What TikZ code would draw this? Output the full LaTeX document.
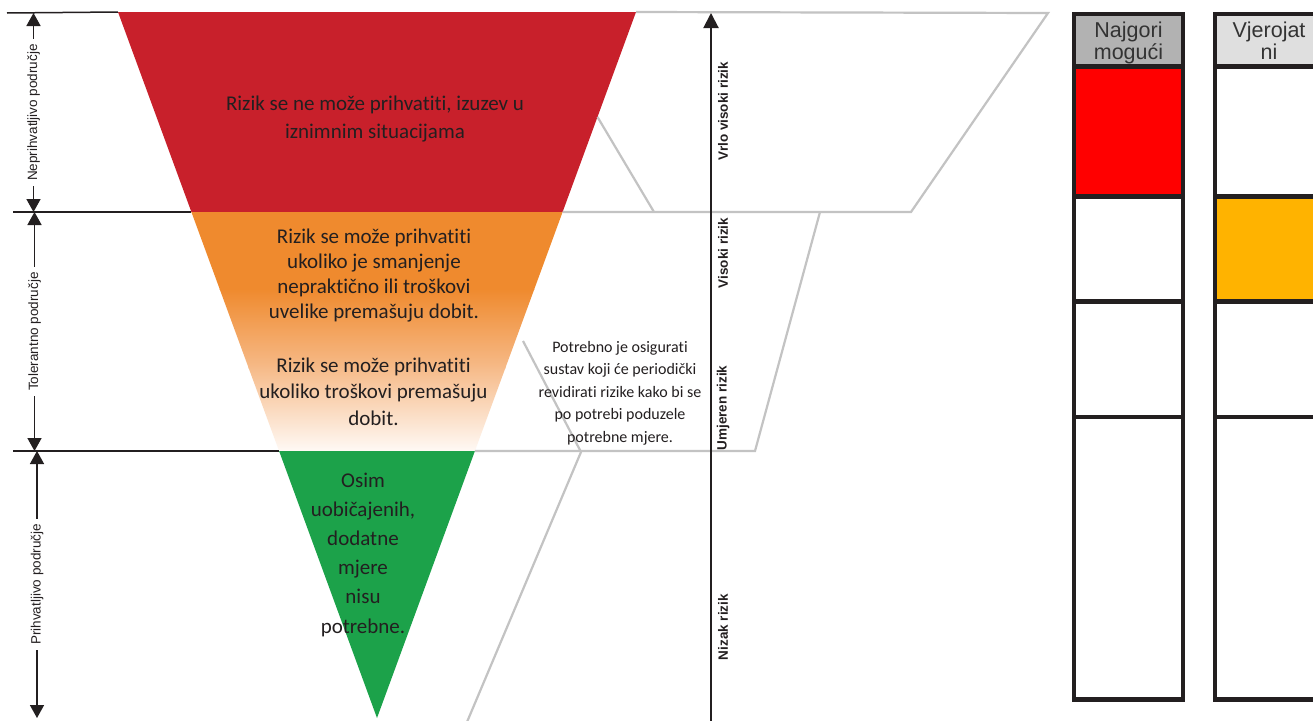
\documentclass[tikz,border=0pt]{standalone}
\usepackage{fontspec}
\setmainfont{Carlito}[Ligatures={NoCommon}]
\newfontfamily\arialf{Liberation Sans}
\usetikzlibrary{arrows.meta}
\definecolor{cRed}{HTML}{C8202B}
\definecolor{cOr}{HTML}{EF8A2E}
\definecolor{cOrB}{HTML}{F6BA88}
\definecolor{cOrC}{HTML}{FFFAF6}
\definecolor{cGreen}{HTML}{1CA24A}
\definecolor{cGray}{HTML}{C3C3C3}
\definecolor{cInk}{HTML}{231F20}
\definecolor{cBoxRed}{HTML}{FF0000}
\definecolor{cBoxOr}{HTML}{FFB300}
\definecolor{cHdrA}{HTML}{B2B2B2}
\definecolor{cHdrB}{HTML}{DFDFDF}
\definecolor{cHdrTxt}{HTML}{333333}
\tikzset{
  ftext/.style={text=cInk, align=center, inner sep=0pt},
  gline/.style={draw=cGray, line width=2.2pt, line join=miter},
  bline/.style={draw=cInk, line width=1.5pt},
  dimline/.style={draw=cInk, line width=1.5pt,
    {Triangle[width=14pt,length=13pt]}-{Triangle[width=14pt,length=13pt]}},
  dimlbl/.style={rotate=90, fill=white, text=cInk, inner sep=5pt,
    font=\arialf\fontsize{13.5}{15}\selectfont},
  axline/.style={draw=cInk, line width=2pt, -{Triangle[width=15pt,length=15pt]}},
  rlbl/.style={rotate=90, text=cInk, inner sep=0pt,
    font=\arialf\bfseries\fontsize{13.5}{15}\selectfont},
  boxline/.style={draw=cInk, line width=4.3pt},
  hdr/.style={text=cHdrTxt, align=center, inner sep=0pt,
    font=\arialf\fontsize{21.5}{22}\selectfont}
}
\begin{document}
\begin{tikzpicture}[x=1pt,y=-1pt]
\clip (0,0) rectangle (1313,720);
\fill[white] (0,0) rectangle (1313,720);

% funnel coordinates
\coordinate (fTL) at (118,12);
\coordinate (fTR) at (636,12);
\coordinate (fA) at (377,718);
\coordinate (fL1) at (191.4,212);
\coordinate (fR1) at (562.6,212);
\coordinate (fL2) at (279.1,451);
\coordinate (fR2) at (474.9,451);

% red part
\fill[cRed] (fTL) -- (fTR) -- (fR1) -- (fL1) -- cycle;
% orange part with fade
\begin{scope}
  \clip (fL1) -- (fR1) -- (fR2) -- (fL2) -- cycle;
  \fill[cOr] (150,211) rectangle (600,290);
  \shade[top color=cOr, bottom color=cOrB] (150,289) rectangle (600,368);
  \shade[top color=cOrB, bottom color=cOrC] (150,367) rectangle (600,452);
\end{scope}
% green part
\fill[cGreen] (fL2) -- (fR2) -- (fA) -- cycle;

% gray callout lines
\coordinate (g1) at (1048,13);
\coordinate (g2) at (911,212);
\coordinate (g3) at (597.5,117);
\coordinate (g4) at (654,212);
\coordinate (g5) at (820,212);
\coordinate (g6) at (755,451);
\coordinate (g7) at (523,341);
\coordinate (g8) at (581,452);
\coordinate (g9) at (467,722);
\draw[gline] (fTR) -- (g1) -- (g2) -- (fR1);
\draw[gline] (g3) -- (g4);
\draw[gline] (g5) -- (g6) -- (fR2);
\draw[gline] (g7) -- (g8) -- (g9);

% left black lines
\coordinate (b1) at (7,13);
\coordinate (b2) at (13,212);
\coordinate (b3) at (13,451);
\draw[bline] (b1) -- (fTL);
\draw[bline] (b2) -- (fL1);
\draw[bline] (b3) -- (fL2);

% left dimension arrows
\coordinate (d1a) at (33.5,13);
\coordinate (d1b) at (33.5,212);
\coordinate (d2a) at (34.5,212);
\coordinate (d2b) at (34.5,451);
\coordinate (d3a) at (37,451);
\coordinate (d3b) at (37,718);
\draw[dimline] (d1a) -- node[dimlbl] (lN) {Neprihvatljivo područje} (d1b);
\draw[dimline] (d2a) -- node[dimlbl] (lT) {Tolerantno područje} (d2b);
\draw[dimline] (d3a) -- node[dimlbl] (lP) {Prihvatljivo područje} (d3b);

% right axis
\coordinate (ax0) at (711,722);
\coordinate (ax1) at (711,13);
\draw[axline] (ax0) -- (ax1);
\node[rlbl] (rVV) at (723,111) {Vrlo visoki rizik};
\node[rlbl] (rV) at (723,253) {Visoki rizik};
\node[rlbl] (rU) at (723,408) {Umjeren rizik};
\node[rlbl] (rN) at (723,627) {Nizak rizik};

% funnel texts
\node[ftext, font=\fontsize{21}{28}\selectfont] (tRed) at (375,119)
  {Rizik se ne može prihvatiti, izuzev u\\iznimnim situacijama};
\node[ftext, font=\fontsize{21}{25}\selectfont] (tOr1) at (374,275.5)
  {Rizik se može prihvatiti\\ukoliko je smanjenje\\nepraktično ili troškovi\\uvelike premašuju dobit.};
\node[ftext, font=\fontsize{21}{26.5}\selectfont] (tOr2) at (373.5,391.5)
  {Rizik se može prihvatiti\\ukoliko troškovi premašuju\\dobit.};
\node[ftext, font=\fontsize{21}{29.2}\selectfont] (tGr) at (363,554.5)
  {Osim\\uobičajenih,\\dodatne\\mjere\\nisu\\potrebne.};
\node[ftext, font=\fontsize{16}{22.5}\selectfont] (tGray) at (620,393)
  {Potrebno je osigurati\\sustav koji će periodički\\revidirati rizike kako bi se\\po potrebi poduzele\\potrebne mjere.};

% right boxes
\fill[cHdrA] (1074,13.8) rectangle (1183,66.5);
\fill[cBoxRed] (1074,66.5) rectangle (1183,196.5);
\fill[cHdrB] (1215,13.8) rectangle (1325,66.5);
\fill[cBoxOr] (1215,196.5) rectangle (1325,301.5);
\draw[boxline] (1074,13.8) rectangle (1183,699.5);
\draw[boxline] (1215,13.8) rectangle (1325,699.5);
\foreach \yy in {66.5,196.5,301.5,417}{
  \draw[boxline] (1074,\yy) -- (1183,\yy);
  \draw[boxline] (1215,\yy) -- (1325,\yy);
}
\node[hdr] (h1) at (1128.5,42.5) {Najgori\\mogući};
\node[hdr] (h2) at (1269,40.3) {Vjerojat\\ni};
\end{tikzpicture}
\end{document}
